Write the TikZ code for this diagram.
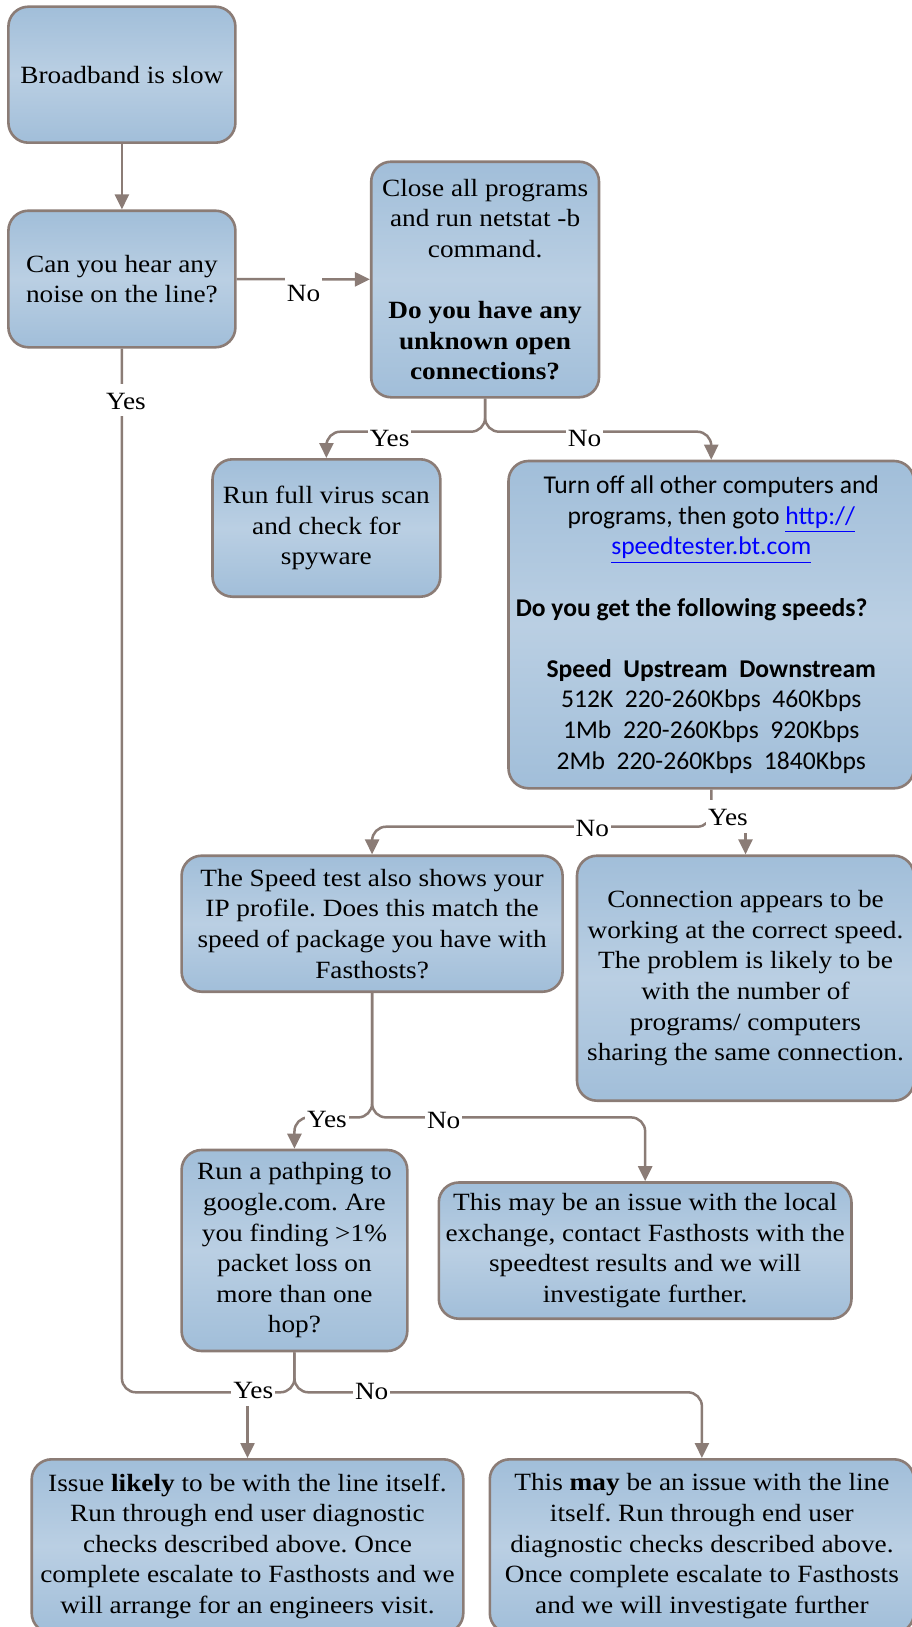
\documentclass[tikz,border=0pt]{standalone}
\usepackage{fontspec}
\setmainfont{Liberation Serif}[FakeStretch=1.1]
\newfontfamily\calibri{Carlito}
\usepackage{tikz}
\usetikzlibrary{arrows.meta}
\definecolor{boxedge}{RGB}{139,124,118}
\definecolor{boxtop}{RGB}{161,190,217}
\definecolor{boxmid}{RGB}{186,207,227}
\frenchspacing

\begin{document}
\begin{tikzpicture}[x=0.5pt, y=-0.5pt,
	flowbox/.style={rectangle, rounded corners=10pt, draw=boxedge, line width=1.3pt, top color=boxtop, bottom color=boxtop, middle color=boxmid, align=center, inner sep=0pt, font=\fontsize{12.4}{15.3}\selectfont},
	link/.style={draw=boxedge, line width=1.25pt, rounded corners=7pt},
	arr/.style={link, -{Triangle[length=7.5pt,width=7pt]}},
	lbl/.style={fill=white, inner xsep=1pt, inner ysep=1.5pt, text height=11pt, text depth=2pt, anchor=base, font=\fontsize{12.4}{15.3}\selectfont}]
		\useasboundingbox (0,0) rectangle (911,1627);
		
		\node (slow) [flowbox, minimum width=113.5pt, minimum height=68pt] at (121.9,74.7) {Broadband is slow};
		
		\node (noise) [flowbox, minimum width=113.5pt, minimum height=68.3pt] at (121.9,279) {Can you hear any\\noise on the line?};
		
		\node (netstat) [flowbox, minimum width=113.9pt, minimum height=117.8pt] at (485.1,279.5) {Close all programs\\and run netstat -b\\command.\\[15.3pt]\textbf{Do you have any}\\\textbf{unknown open}\\\textbf{connections?}};
		
		\node (virus) [flowbox, minimum width=113.9pt, minimum height=68.7pt] at (326.4,528) {Run full virus scan\\and check for\\spyware};
		
		\node (speed) [flowbox, font=\calibri\fontsize{12.8}{15.3}\selectfont, minimum width=202.75pt, minimum height=163.65pt] at (711.25,624.65) {Turn off all other computers and\\programs, then goto {\color{blue}\underline{http://}}\\{\color{blue}\underline{speedtester.bt.com}}\\[15.3pt]\makebox[195.5pt][l]{\textbf{Do you get the following speeds?}}\\[15.3pt]\textbf{Speed~~Upstream~~Downstream}\\512K~~220-260Kbps~~460Kbps\\1Mb~~220-260Kbps~~920Kbps\\2Mb~~220-260Kbps~~1840Kbps};
		
		\node (profile) [flowbox, minimum width=190.5pt, minimum height=68pt] at (372.1,923.7) {The Speed test also shows your\\IP profile. Does this match the\\speed of package you have with\\Fasthosts?};
		
		\node (correct) [flowbox, minimum width=168.5pt, minimum height=122.5pt] at (745.5,978.2) {Connection appears to be\\working at the correct speed.\\The problem is likely to be\\with the number of\\programs/ computers\\sharing the same connection.};
		
		\node (pathping) [flowbox, minimum width=112.85pt, minimum height=100.5pt] at (294.45,1250.5) {Run a pathping to\\google.com. Are\\you finding >1\%\\packet loss on\\more than one\\hop?};
		
		\node (exchange) [flowbox, minimum width=206.35pt, minimum height=68.1pt] at (645.15,1250.6) {This may be an issue with the local\\exchange, contact Fasthosts with the\\speedtest results and we will\\investigate further.};
		
		\node (likely) [flowbox, minimum width=215.8pt, minimum height=86.85pt] at (247.5,1546.15) {Issue \textbf{likely} to be with the line itself.\\Run through end user diagnostic\\checks described above. Once\\complete escalate to Fasthosts and we\\will arrange for an engineers visit.};
		
		\node (maybe) [flowbox, minimum width=212.1pt, minimum height=86.85pt] at (701.9,1546.15) {This \textbf{may} be an issue with the line\\itself. Run through end user\\diagnostic checks described above.\\Once complete escalate to Fasthosts\\and we will investigate further};
		
		\coordinate (fork1) at (485.1,431.7);
		\coordinate (fork2) at (711.25,826.7);
		\coordinate (fork3) at (372.1,1117.4);
		\coordinate (fork4) at (294.45,1392.3);
		\coordinate (yesfoot2) at (745.5,833);
		\coordinate (yesfoot4) at (247.5,1406);
		
		\draw [arr] (slow) -- (noise);
		\draw [arr] (noise) -- (netstat);
		\draw [arr] (netstat.south) |- (fork1 -| virus.north) -- (virus.north);
		\draw [arr] (netstat.south) |- (fork1 -| speed.north) -- (speed.north);
		\draw [arr] (speed.south) |- (fork2 -| profile.north) -- (profile.north);
		\draw [arr] (yesfoot2) -- (correct.north);
		\draw [arr] (profile.south) |- (fork3 -| pathping.north) -- (pathping.north);
		\draw [arr] (profile.south) |- (fork3 -| exchange.north) -- (exchange.north);
		\draw [link] (noise.south) |- (fork4) -- (pathping.south);
		\draw [arr] (pathping.south) |- (fork4 -| maybe.north) -- (maybe.north);
		\draw [arr] (yesfoot4) -- (likely.north);
		
		\node (nonoise) [lbl] at (303.5,301.7) {No};
		\node (yesnoise) [lbl] at (126,409.3) {Yes};
		\node (yesopen) [lbl] at (389.6,446) {Yes};
		\node (noopen) [lbl] at (584.5,446) {No};
		\node (nospeed) [lbl] at (592.3,836) {No};
		\node (yesspeed) [lbl] at (728,825) {Yes};
		\node (yesprofile) [lbl] at (327,1127.3) {Yes};
		\node (noprofile) [lbl] at (443.7,1128) {No};
		\node (yesloss) [lbl] at (253.3,1398.3) {Yes};
		\node (noloss) [lbl] at (371.7,1399) {No};
		
\end{tikzpicture}
\end{document}
